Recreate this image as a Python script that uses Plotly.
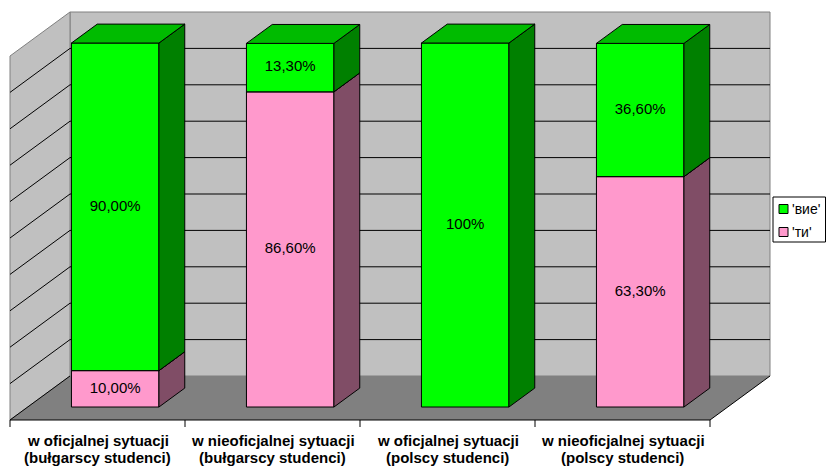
import plotly.graph_objects as go

# ---------------- data ----------------
categories = [
    "w oficjalnej sytuacji<br>(bułgarscy studenci)",
    "w nieoficjalnej sytuacji<br>(bułgarscy studenci)",
    "w oficjalnej sytuacji<br>(polscy studenci)",
    "w nieoficjalnej sytuacji<br>(polscy studenci)",
]
series_names = ["'вие'", "'ти'"]
vie_values = [90.0, 13.3, 100.0, 36.6]
ti_values = [10.0, 86.6, 0.0, 63.3]
vie_labels = ["90,00%", "13,30%", "100%", "36,60%"]
ti_labels = ["10,00%", "86,60%", "", "63,30%"]
grid_values = [10, 20, 30, 40, 50, 60, 70, 80, 90]
y_max = 100

# ---------------- styles / geometry ----------------
W, H = 826, 468
PX_X = 175.0          # pixels per category
PX_Y = 3.64           # pixels per percent
X0_PX, Y0_PX = 10, 420
DX = 60 / PX_X        # full floor depth (x, data units)
DY = 44 / PX_Y        # full floor depth (y, data units)
BAR_START = 0.295     # depth fraction where bars start
BAR_DEPTH = 0.43      # bar depth fraction
BAR_W = 0.5

colors = {
    "vie": dict(front="#00FF00", side="#008000", top="#00BB00"),
    "ti": dict(front="#FF99CC", side="#804D66", top="#CC7AA3"),
}

fig = go.Figure()
n = len(categories)


def poly(pts, fill, line_color="black", width=1):
    xs = [p[0] for p in pts] + [pts[0][0]]
    ys = [p[1] for p in pts] + [pts[0][1]]
    fig.add_trace(go.Scatter(
        x=xs, y=ys, mode="lines", fill="toself", fillcolor=fill,
        line=dict(color=line_color, width=width),
        hoverinfo="skip", showlegend=False))


def lines(segs, color="black", width=1):
    xs, ys = [], []
    for (a, b) in segs:
        xs += [a[0], b[0], None]
        ys += [a[1], b[1], None]
    fig.add_trace(go.Scatter(x=xs, y=ys, mode="lines",
                             line=dict(color=color, width=width),
                             hoverinfo="skip", showlegend=False))


# walls
poly([(DX, DY), (n + DX, DY), (n + DX, y_max + DY), (DX, y_max + DY)],
     "#C0C0C0", "#808080")
poly([(0, 0), (DX, DY), (DX, y_max + DY), (0, y_max)], "#C0C0C0", "#808080")
# floor
poly([(0, 0), (n, 0), (n + DX, DY), (DX, DY)], "#808080", "#808080", 0)
lines([((0, 0), (n, 0)), ((n, 0), (n + DX, DY)), ((0, 0), (DX, DY))],
      "black", 1)

# gridlines
segs = []
for g in grid_values:
    segs.append(((0, g), (DX, g + DY)))
    segs.append(((DX, g + DY), (n + DX, g + DY)))
lines(segs, "black", 1)

# category ticks
tick_len = 7 / PX_Y
lines([((i, 0), (i, -tick_len)) for i in range(n + 1)], "black", 1)

# bars
bx, by = BAR_START * DX, BAR_START * DY
ddx, ddy = BAR_DEPTH * DX, BAR_DEPTH * DY
txt_x, txt_y, txt = [], [], []
for i in range(n):
    base = 0.0
    for key, vals, labs in (("ti", ti_values, ti_labels),
                            ("vie", vie_values, vie_labels)):
        v = vals[i]
        if v <= 0:
            continue
        c = colors[key]
        x0 = i + 0.5 - BAR_W / 2 + bx
        x1 = i + 0.5 + BAR_W / 2 + bx
        y0 = base + by
        y1 = base + v + by
        poly([(x0, y0), (x1, y0), (x1, y1), (x0, y1)], c["front"])
        poly([(x1, y0), (x1 + ddx, y0 + ddy), (x1 + ddx, y1 + ddy), (x1, y1)],
             c["side"])
        poly([(x0, y1), (x1, y1), (x1 + ddx, y1 + ddy), (x0 + ddx, y1 + ddy)],
             c["top"])
        txt_x.append((x0 + x1) / 2)
        txt_y.append((y0 + y1) / 2)
        txt.append(labs[i])
        base += v

fig.add_trace(go.Scatter(x=txt_x, y=txt_y, text=txt, mode="text",
                         textfont=dict(family="Liberation Sans, Arial",
                                       size=15, color="black"),
                         hoverinfo="skip", showlegend=False))

# category labels (one annotation per line for exact spacing)
line_px = [440, 457.5]
for i, cat in enumerate(categories):
    for j, part in enumerate(cat.split("<br>")):
        fig.add_annotation(x=i + 0.5, y=(Y0_PX - line_px[j]) / PX_Y,
                           text="<b>%s</b>" % part,
                           showarrow=False, xanchor="center",
                           yanchor="middle",
                           font=dict(family="Liberation Sans, Arial", size=15,
                                     color="black"))

# legend (manual)
def px(x):
    return x / W


def py(y):
    return 1 - y / H


fig.add_shape(type="rect", xref="paper", yref="paper",
              x0=px(773), x1=px(825.5), y0=py(242), y1=py(197),
              line=dict(color="black", width=1), fillcolor="white")
for k, (name, key) in enumerate(zip(series_names, ["vie", "ti"])):
    yc = 209 + k * 23
    fig.add_shape(type="rect", xref="paper", yref="paper",
                  x0=px(779), x1=px(788), y0=py(yc + 4.5), y1=py(yc - 4.5),
                  line=dict(color="black", width=1),
                  fillcolor=colors[key]["front"])
    fig.add_annotation(xref="paper", yref="paper", x=px(790), y=py(yc),
                       text=name, showarrow=False, xanchor="left",
                       yanchor="middle",
                       font=dict(family="Liberation Sans, Arial", size=14,
                                 color="black"))

fig.update_layout(
    width=W, height=H,
    margin=dict(l=0, r=0, t=0, b=0),
    paper_bgcolor="white", plot_bgcolor="white",
    xaxis=dict(visible=False, range=[-X0_PX / PX_X, (W - X0_PX) / PX_X],
               fixedrange=True),
    yaxis=dict(visible=False, range=[-(H - Y0_PX) / PX_Y, Y0_PX / PX_Y],
               fixedrange=True),
    showlegend=False,
)

fig.write_html("out.html",
               config={"displayModeBar": False},
               post_script="document.body.style.margin='0px';"
                           "document.body.style.overflow='hidden';")
